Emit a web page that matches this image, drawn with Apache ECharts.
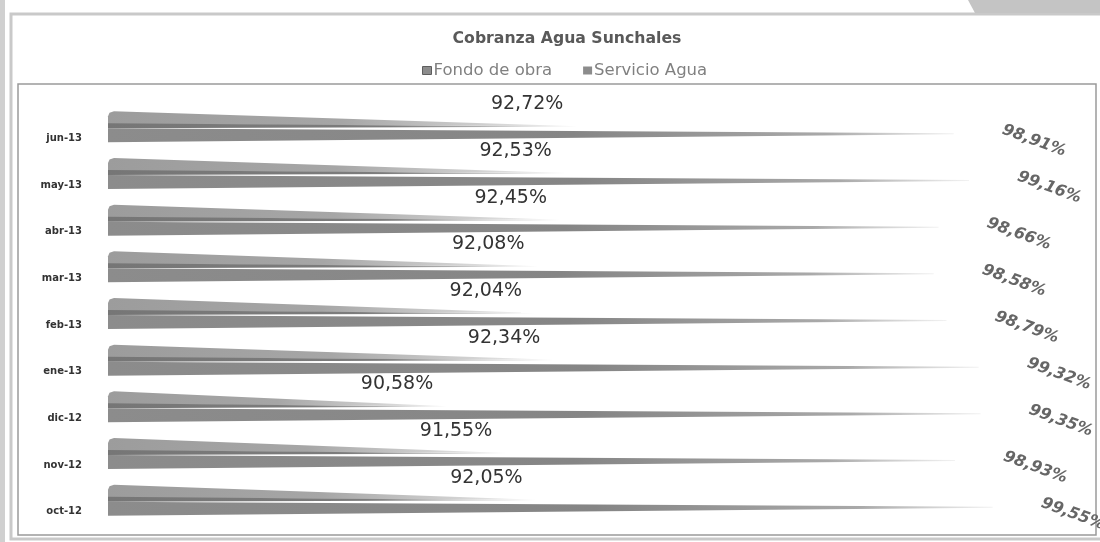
<!DOCTYPE html>
<html>
<head>
<meta charset="utf-8">
<title>Cobranza Agua Sunchales</title>
<script src="https://cdn.jsdelivr.net/npm/echarts@6/dist/echarts.min.js"></script>
<style>
  html, body { margin: 0; padding: 0; background: #fff; }
  #chart { width: 1100px; height: 542px; }
</style>
</head>
<body>
<div id="chart"></div>
<script>
// meses, de abajo hacia arriba (como en la planilla)
const months = ['oct-12', 'nov-12', 'dic-12', 'ene-13', 'feb-13', 'mar-13', 'abr-13', 'may-13', 'jun-13'];
const fondoObra = [92.05, 91.55, 90.58, 92.34, 92.04, 92.08, 92.45, 92.53, 92.72];
const servicioAgua = [99.55, 98.93, 99.35, 99.32, 98.79, 98.58, 98.66, 99.16, 98.91];

const AXIS_MIN = 85;
const chart = echarts.init(document.getElementById('chart'));

const fmt = v => v.toFixed(2).replace('.', ',') + '%';
const fade = (stops) => new echarts.graphic.LinearGradient(0, 0, 1, 0,
  stops.map(s => ({ offset: s[0], color: s[1] })));

// cono de "Fondo de obra" (arriba del par)
function renderFondo(params, api) {
  const v = api.value(0);
  const tip = api.coord([v, api.value(1)]);
  const base = api.coord([AXIS_MIN, api.value(1)]);
  const c = tip[1], x0 = base[0], x1 = tip[0];
  const top = c - 27, bot = c - 10;
  return {
    type: 'group',
    children: [
      {
        type: 'polygon',
        shape: { points: [[x0 + 6, top], [x1, bot - 2], [x0, bot - 4], [x0, top + 5], [x0 + 1.5, top + 1.5]] },
        style: { fill: fade([[0, '#9c9c9c'], [0.5, '#a6a6a6'], [0.8, '#cfcfcf'], [1, '#f6f6f6']]) }
      },
      {
        type: 'polygon',
        shape: { points: [[x0, bot - 5], [x1, bot - 1.5], [x0, bot]] },
        style: { fill: fade([[0, '#767676'], [0.6, '#7c7c7c'], [1, '#e6e6e6']]) }
      },
      {
        type: 'text',
        style: {
          text: fmt(v), x: x1 - 14, y: c - 34, align: 'right', verticalAlign: 'middle',
          fontFamily: 'DejaVu Sans', fontSize: 19, fill: '#333'
        }
      }
    ]
  };
}

// cono de "Servicio Agua" (abajo del par)
function renderAgua(params, api) {
  const v = api.value(0);
  const tip = api.coord([v, api.value(1)]);
  const base = api.coord([AXIS_MIN, api.value(1)]);
  const c = tip[1], x0 = base[0], x1 = tip[0];
  const top = c - 10, bot = c + 4;
  return {
    type: 'group',
    children: [
      {
        type: 'polygon',
        shape: { points: [[x0, top], [x1, top + 5], [x1, top + 6], [x0, bot]] },
        style: { fill: fade([[0, '#8c8c8c'], [0.55, '#858585'], [0.85, '#a9a9a9'], [1, '#f2f2f2']]) }
      },
      {
        type: 'text',
        x: x1 + 49,
        y: c - 9,
        rotation: -20 * Math.PI / 180,
        style: {
          text: fmt(v), x: 0, y: 0, align: 'left', verticalAlign: 'middle',
          fontFamily: 'DejaVu Sans', fontStyle: 'italic', fontWeight: 'bold', fontSize: 16, fill: '#666'
        }
      }
    ]
  };
}

const option = {
  backgroundColor: '#fff',
  animation: false,
  title: {
    text: 'Cobranza Agua Sunchales',
    left: 562,
    textAlign: 'center',
    top: 26,
    textStyle: { fontFamily: 'DejaVu Sans', fontSize: 15.7, fontWeight: 'bold', color: '#595959' }
  },
  legend: {
    top: 57,
    left: 417,
    itemWidth: 9,
    itemHeight: 8,
    itemGap: 31,
    icon: 'rect',
    textStyle: { fontFamily: 'DejaVu Sans', fontSize: 16.5, color: '#808080', padding: [0, 0, 0, -3] },
    data: [
      { name: 'Fondo de obra', itemStyle: { color: '#8c8c8c', borderColor: '#5e5e5e', borderWidth: 1 } },
      { name: 'Servicio Agua', itemStyle: { color: '#8c8c8c' } }
    ]
  },
  grid: { left: 108, right: 80, top: 115, bottom: 7 },
  xAxis: {
    type: 'value',
    min: AXIS_MIN,
    max: 100,
    show: false
  },
  yAxis: {
    type: 'category',
    data: months,
    axisLine: { show: false },
    axisTick: { show: false },
    splitLine: { show: false },
    axisLabel: {
      margin: 26,
      fontFamily: 'DejaVu Sans',
      fontSize: 10,
      fontWeight: 'bold',
      color: '#333'
    }
  },
  series: [
    {
      name: 'Fondo de obra',
      type: 'custom',
      renderItem: renderFondo,
      data: fondoObra.map((v, i) => [v, months[i]]),
      encode: { x: 0, y: 1 },
      itemStyle: { color: '#8c8c8c' },
      z: 3
    },
    {
      name: 'Servicio Agua',
      type: 'custom',
      renderItem: renderAgua,
      data: servicioAgua.map((v, i) => [v, months[i]]),
      encode: { x: 0, y: 1 },
      itemStyle: { color: '#8c8c8c' },
      z: 2
    }
  ],
  graphic: [
    // marco exterior
    { type: 'rect', shape: { x: 11, y: 14, width: 1100, height: 525 }, style: { fill: 'none', stroke: '#c9c9c9', lineWidth: 3 }, silent: true },
    // separador del encabezado y recuadro del grafico
    { type: 'rect', shape: { x: 18, y: 84, width: 1078, height: 451 }, style: { fill: 'none', stroke: '#9a9a9a', lineWidth: 1.5 }, silent: true },
    // franja gris de arriba a la derecha
    { type: 'polygon', shape: { points: [[968, 0], [1100, 0], [1100, 13], [975, 13]] }, style: { fill: '#c4c4c4' }, silent: true },
    // borde izquierdo
    { type: 'rect', shape: { x: 0, y: 0, width: 5, height: 542 }, style: { fill: '#d0d0d0' }, silent: true }
  ]
};

chart.setOption(option);
</script>
</body>
</html>
